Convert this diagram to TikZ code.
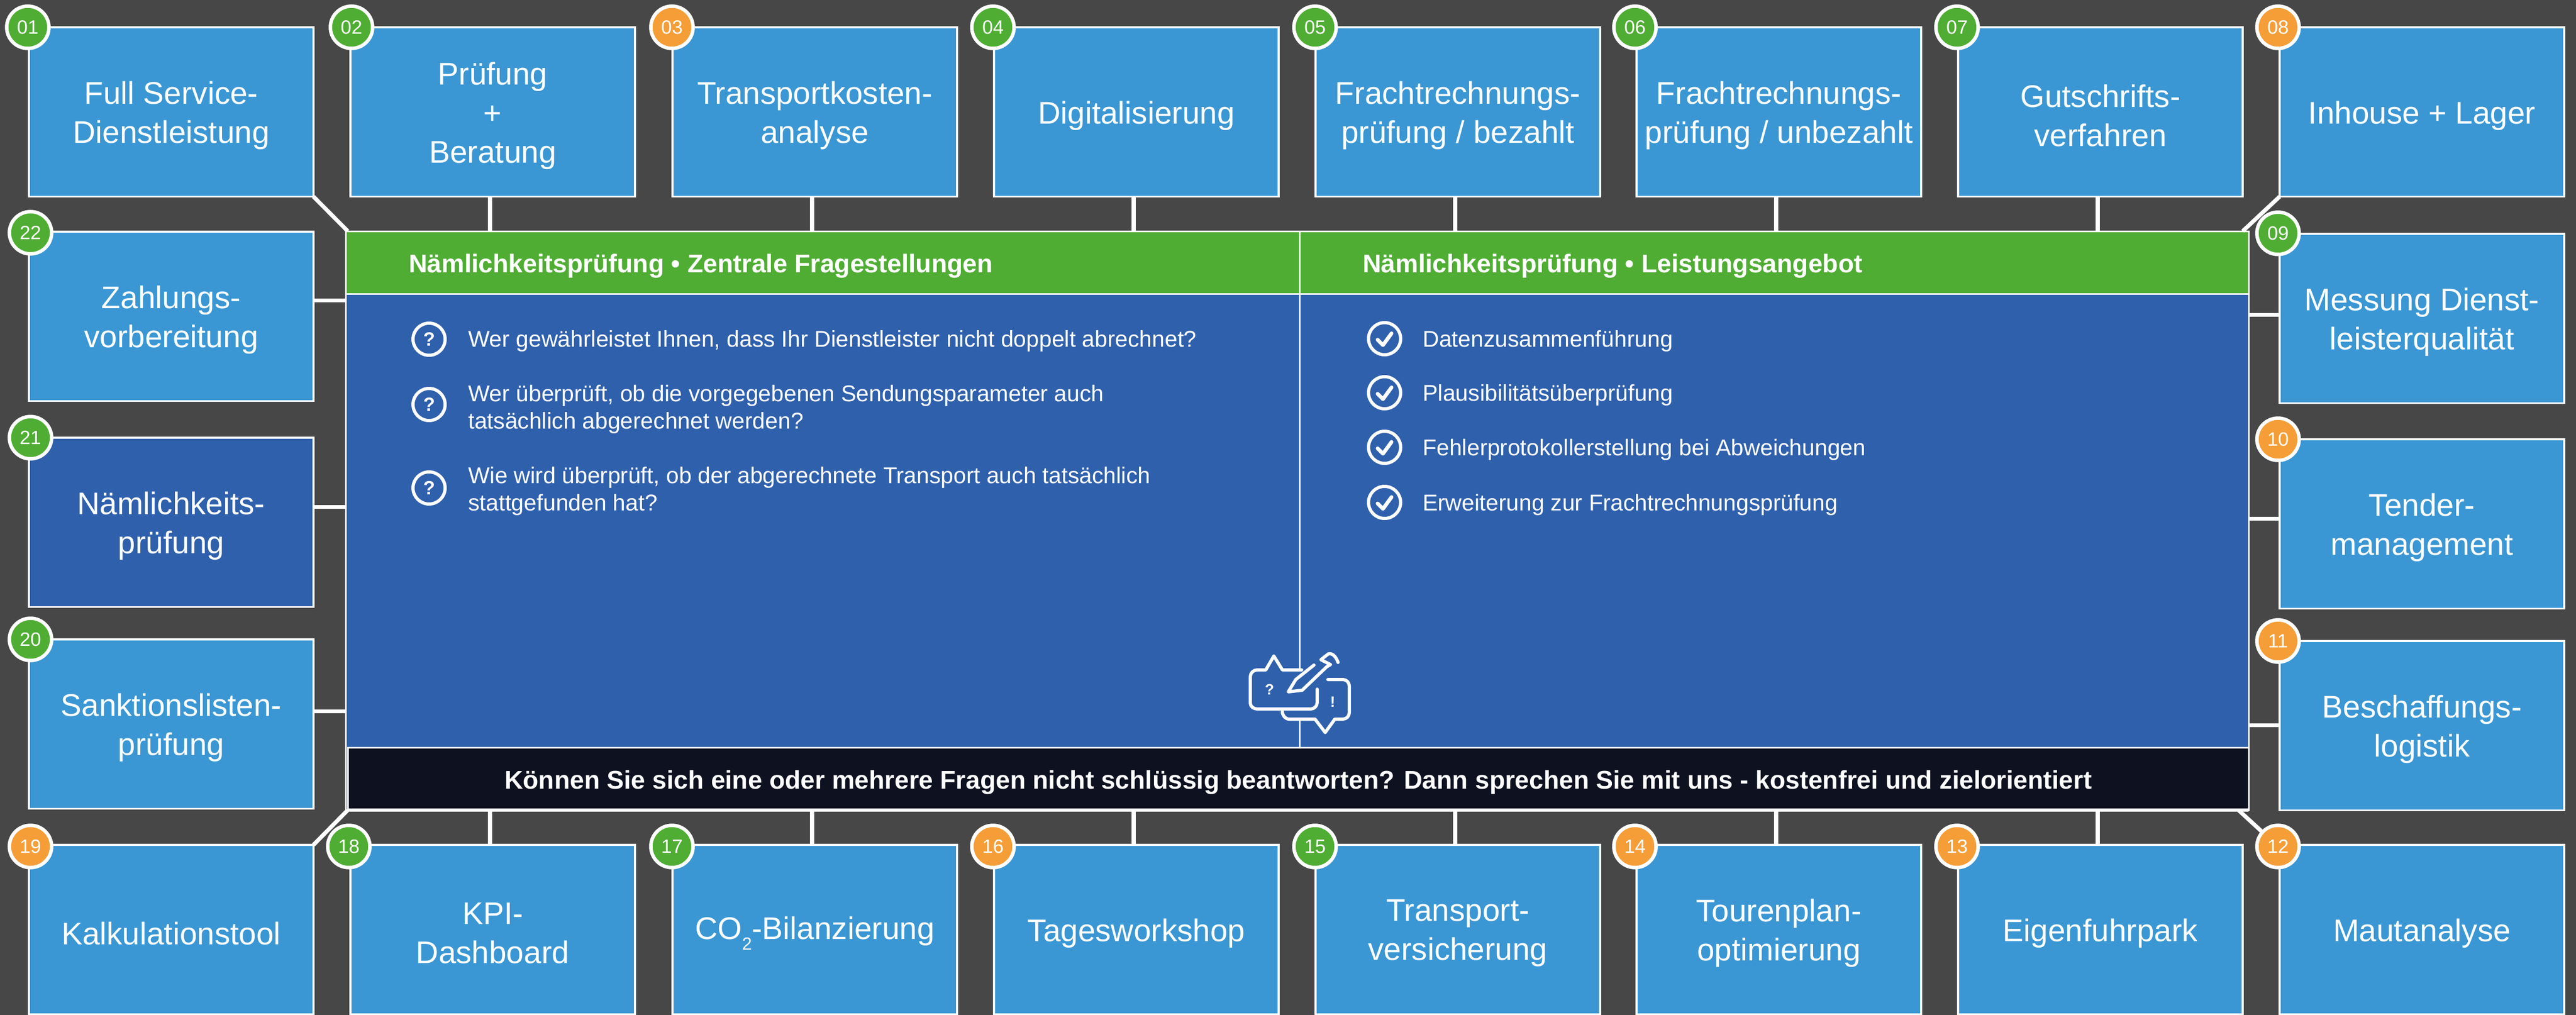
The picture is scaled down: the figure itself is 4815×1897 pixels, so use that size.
\documentclass[tikz,border=0pt]{standalone}
\usepackage{fontspec}
\setmainfont{Liberation Sans}
\definecolor{bgc}{HTML}{474747}
\definecolor{boxc}{HTML}{3A97D4}
\definecolor{darkc}{HTML}{2F60AC}
\definecolor{gn}{HTML}{4FAD33}
\definecolor{og}{HTML}{F59E38}
\definecolor{blk}{HTML}{0D1120}
\tikzset{
 x=1pt,y=-1pt,
 svc/.style={draw=white,line width=3.5pt,fill=boxc,minimum width=532pt,minimum height=316.5pt,inner sep=0pt,outer sep=0pt,anchor=north west},
 svclabel/.style={text=white,inner sep=0pt,align=center,font=\fontsize{58.5}{73}\selectfont},
 conn/.style={draw=white,line width=7.5pt},
 badge/.style={circle,draw=white,line width=6.5pt,minimum size=79pt,inner sep=0pt,text=white,font=\fontsize{36}{36}\selectfont},
 panelbox/.style={draw=white,line width=3pt,inner sep=0pt,outer sep=0pt,anchor=north west},
 head/.style={text=white,inner sep=0pt,anchor=west,font=\bfseries\fontsize{48}{52}\selectfont},
 body/.style={text=white,inner sep=0pt,anchor=west,align=left,font=\fontsize{42.7}{51}\selectfont},
 ring/.style={circle,draw=white,line width=6pt,minimum size=60pt,inner sep=0pt,text=white,font=\bfseries\fontsize{36}{36}\selectfont},
 ico/.style={draw=white,line width=6pt,line join=round,line cap=round},
 icotext/.style={text=white,inner sep=0pt,font=\bfseries\fontsize{28}{28}\selectfont},
}
\newcommand\svcbox[5][boxc]{\node[svc,fill=#1] (b#2) at (#3,#4) {};\node[svclabel] (l#2) at ([yshift=-7pt]b#2.center) {#5};}
\newcommand\numbadge[4]{\node[badge,fill=#4] (n#1) at (#2,#3) {#1};}
\begin{document}
\begin{tikzpicture}
\path[fill=bgc,use as bounding box] (0,0) rectangle (4815,1897);
% panel
\node[panelbox,fill=darkc,minimum width=3557pt,minimum height=1082pt] (panel) at (646,432) {};
\node[panelbox,fill=gn,minimum width=1783pt,minimum height=117pt] (hl) at (646,432) {};
\node[panelbox,fill=gn,minimum width=1774pt,minimum height=117pt] (hr) at (2429,432) {};
\node[panelbox,fill=blk,minimum width=3553pt,minimum height=117pt] (banner) at (650,1397) {};
\draw[white,line width=6pt] (banner.south west) -- (banner.south east);
\draw[white,line width=3pt] (hl.south east) -- (hl.south east |- banner.north);
% boxes
\svcbox{01}{54}{51}{Full Service-\\Dienstleistung}
\svcbox{02}{655}{51}{Prüfung\\+\\Beratung}
\svcbox{03}{1257}{51}{Transportkosten-\\analyse}
\svcbox{04}{1858}{51}{Digitalisierung}
\svcbox{05}{2459}{51}{Frachtrechnungs-\\prüfung / bezahlt}
\svcbox{06}{3059}{51}{Frachtrechnungs-\\prüfung / unbezahlt}
\svcbox{07}{3660}{51}{Gutschrifts-\\verfahren}
\svcbox{08}{4261}{51}{Inhouse + Lager}
\svcbox{09}{4261}{437}{Messung Dienst-\\leisterqualität}
\svcbox{10}{4261}{821}{Tender-\\management}
\svcbox{11}{4261}{1198}{Beschaffungs-\\logistik}
\svcbox{12}{4261}{1579}{Mautanalyse}
\svcbox{13}{3660}{1579}{Eigenfuhrpark}
\svcbox{14}{3059}{1579}{Tourenplan-\\optimierung}
\svcbox{15}{2459}{1579}{Transport-\\versicherung}
\svcbox{16}{1858}{1579}{Tagesworkshop}
\svcbox{17}{1257}{1579}{CO\raisebox{-20pt}{\fontsize{33}{33}\selectfont 2}-Bilanzierung}
\svcbox{18}{655}{1579}{KPI-\\Dashboard}
\svcbox{19}{54}{1579}{Kalkulationstool}
\svcbox{20}{54}{1195}{Sanktionslisten-\\prüfung}
\svcbox[darkc]{21}{54}{818}{Nämlichkeits-\\prüfung}
\svcbox{22}{54}{433}{Zahlungs-\\vorbereitung}
% connectors
\foreach \n in {02,03,04,05,06,07}{
  \draw[conn] (b\n.south) ++(-5,0) coordinate (t\n) -- (t\n |- panel.north);}
\foreach \n in {13,14,15,16,17,18}{
  \draw[conn] (b\n.north) ++(-5,0) coordinate (t\n) -- (t\n |- panel.south);}
\foreach \n/\dy in {22/-30,21/-29,20/-24}{
  \draw[conn] (b\n.east) ++(0,\dy) coordinate (s\n) -- (s\n -| panel.west);}
\foreach \n/\dy in {09/-7,10/-10,11/-1}{
  \draw[conn] (b\n.west) ++(0,\dy) coordinate (s\n) -- (s\n -| panel.east);}
\draw[conn] (b01.south east) -- ([xshift=4pt]panel.north west);
\draw[conn] (b08.south west) -- ([xshift=-11pt]panel.north east);
\draw[conn] (b19.north east) -- ([xshift=4pt]panel.south west);
\coordinate (k12) at ([xshift=-19pt]panel.south east);
\coordinate (m12) at (4258,1582);
\draw[conn] (k12) -- (m12);
% badges
\numbadge{01}{52}{51}{gn}
\numbadge{02}{657}{51}{gn}
\numbadge{03}{1256}{51}{og}
\numbadge{04}{1856}{51}{gn}
\numbadge{05}{2458}{51}{gn}
\numbadge{06}{3056}{51}{gn}
\numbadge{07}{3658}{51}{gn}
\numbadge{08}{4258}{51}{og}
\numbadge{09}{4258}{436}{gn}
\numbadge{10}{4258}{821}{og}
\numbadge{11}{4258}{1198}{og}
\numbadge{12}{4258}{1582}{og}
\numbadge{13}{3658}{1582}{og}
\numbadge{14}{3056}{1582}{og}
\numbadge{15}{2458}{1582}{gn}
\numbadge{16}{1856}{1582}{og}
\numbadge{17}{1256}{1582}{gn}
\numbadge{18}{652}{1582}{gn}
\numbadge{19}{57}{1582}{og}
\numbadge{20}{57}{1195}{gn}
\numbadge{21}{57}{818}{gn}
\numbadge{22}{57}{435}{gn}
% texts
\node[head] (tl) at (764,497) {Nämlichkeitsprüfung • Zentrale Fragestellungen};
\node[head] (tr) at (2547,497) {Nämlichkeitsprüfung • Leistungsangebot};
\node[text=white,inner sep=0pt,font=\bfseries\fontsize{47.9}{50}\selectfont] (bt) at ([yshift=-7pt]banner.center) {Können Sie sich eine oder mehrere Fragen nicht schlüssig beantworten? Dann sprechen Sie mit uns - kostenfrei und zielorientiert};
\node[ring] (q1) at (802,634) {?};
\node[ring] (q2) at (802,756) {?};
\node[ring] (q3) at (802,912) {?};
\node[body] (qt1) at (875,637) {Wer gewährleistet Ihnen, dass Ihr Dienstleister nicht doppelt abrechnet?};
\node[body] (qt2) at (875,765) {Wer überprüft, ob die vorgegebenen Sendungsparameter auch\\tatsächlich abgerechnet werden?};
\node[body] (qt3) at (875,918) {Wie wird überprüft, ob der abgerechnete Transport auch tatsächlich\\stattgefunden hat?};
\foreach \nm/\yy/\tx in {1/633/Datenzusammenführung,2/734/Plausibilitätsüberprüfung,3/836/Fehlerprotokollerstellung bei Abweichungen,4/939/Erweiterung zur Frachtrechnungsprüfung}{
  \node[ring] (c\nm) at (2588,\yy) {};
  \draw[white,line width=7pt,line cap=round,line join=round] (2575,\yy+2) -- (2585,\yy+12) -- (2601,\yy-10);
  \node[body] (ct\nm) at (2659,\yy+4) {\tx};
}
% icon
\fill[darkc] (2420,1250) rectangle (2437,1343);
\draw[ico] (2433,1252) -- (2397,1252) -- (2381,1226) -- (2366,1252) -- (2350,1252) to[out=180,in=90] (2337,1265) -- (2337,1314) to[out=-90,in=180] (2350,1325) -- (2450,1325) to[out=0,in=-90] (2462,1313) -- (2462,1288);
\draw[ico] (2482,1270) -- (2510,1270) to[out=0,in=90] (2522,1282) -- (2522,1332) to[out=-90,in=0] (2510,1344) -- (2495,1344) -- (2477,1369) -- (2458,1344) -- (2410,1344) to[out=180,in=-90] (2397,1330);
\draw[ico] (2456,1243) -- (2422,1270) -- (2408,1293) -- (2434,1290) -- (2480,1246) -- (2487,1242) -- (2469,1233) -- (2483,1222) to[out=10,in=110] (2501,1238);
\node[icotext] (qm) at (2373,1289) {?};
\node[icotext] (em) at (2491,1312) {!};
\end{tikzpicture}
\end{document}
